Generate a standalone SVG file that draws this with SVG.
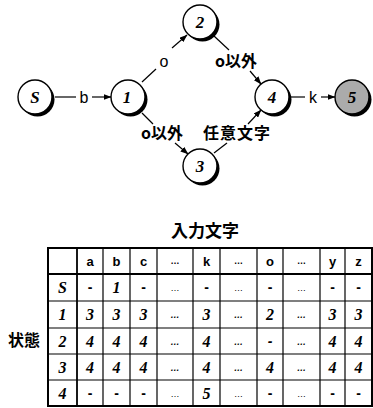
<svg xmlns="http://www.w3.org/2000/svg" width="373" height="408" viewBox="0 0 373 408">
<defs>
<style>
.shadow{fill:#000}
.node{fill:#fff;stroke:#000;stroke-width:1.4}
.nl{font-family:"Liberation Serif",serif;font-style:italic;font-weight:bold;font-size:17px;text-anchor:middle}
.edge{stroke:#000;stroke-width:1.2;fill:none}
.arr{stroke:#000;stroke-width:1.2;fill:none;marker-end:url(#ah)}
.el{font-family:"Liberation Sans",Arial,sans-serif;font-size:16px;text-anchor:middle}
.cj{font-family:"Noto Sans CJK JP","Noto Sans CJK SC",sans-serif;font-weight:bold;font-size:16px;text-anchor:middle}
.grid{stroke:#000;stroke-width:1.2}
.thick{stroke:#000;stroke-width:2}
.hd{font-family:"Liberation Sans",Arial,sans-serif;font-size:13px;font-weight:bold;text-anchor:middle}
.val{font-family:"Liberation Serif",serif;font-style:italic;font-weight:bold;font-size:16px;text-anchor:middle}
.dots{font-family:"Liberation Sans",Arial,sans-serif;font-size:9px;text-anchor:middle}
.dash{font-family:"Liberation Sans",Arial,sans-serif;font-size:14px;font-weight:bold;text-anchor:middle}
</style>
<marker id="ah" viewBox="0 0 8 6" refX="7.5" refY="3" markerWidth="8" markerHeight="6" markerUnits="userSpaceOnUse" orient="auto">
<path d="M0,0 L8,3 L0,6 Z" fill="#000"/>
</marker>
</defs>
<rect width="373" height="408" fill="#fff"/>

<g id="connectors">
<line class="edge" x1="55" y1="97" x2="76" y2="97"/>
<line class="arr" x1="92" y1="97" x2="111" y2="97"/>
<text class="el" x="84" y="103">b</text>
<line class="edge" x1="142" y1="82" x2="156" y2="69"/>
<line class="arr" x1="172" y1="48" x2="187" y2="35"/>
<text class="el" x="164" y="67">o</text>
<line class="edge" x1="214" y1="36" x2="229" y2="50"/>
<line class="arr" x1="250" y1="71" x2="261" y2="84"/>
<text class="cj" x="236" y="67">o以外</text>
<line class="edge" x1="142" y1="113" x2="153" y2="124"/>
<line class="arr" x1="175" y1="143" x2="188" y2="154"/>
<text class="cj" x="162" y="139">o以外</text>
<line class="edge" x1="214" y1="153" x2="227" y2="143"/>
<line class="arr" x1="248" y1="124" x2="261" y2="110"/>
<text class="cj" x="237" y="139" style="letter-spacing:1px">任意文字</text>
<line class="edge" x1="291" y1="97" x2="305" y2="97"/>
<line class="arr" x1="321" y1="97" x2="335" y2="97"/>
<text class="el" x="313" y="103">k</text>
</g>

<g id="node-S"><circle class="shadow" cx="37.5" cy="99.5" r="17"/><circle class="node" cx="35" cy="97" r="17"/><text class="nl" x="35" y="103">S</text></g>
<g id="node-1"><circle class="shadow" cx="130.5" cy="99.5" r="17"/><circle class="node" cx="128" cy="97" r="17"/><text class="nl" x="127" y="103">1</text></g>
<g id="node-2"><circle class="shadow" cx="202.5" cy="24.5" r="17"/><circle class="node" cx="200" cy="22" r="17"/><text class="nl" x="200" y="28">2</text></g>
<g id="node-3"><circle class="shadow" cx="202.5" cy="168.5" r="17"/><circle class="node" cx="200" cy="166" r="17"/><text class="nl" x="200" y="172">3</text></g>
<g id="node-4"><circle class="shadow" cx="274.5" cy="99.5" r="17"/><circle class="node" cx="272" cy="97" r="17"/><text class="nl" x="272" y="103">4</text></g>
<g id="node-5"><circle class="shadow" cx="354.5" cy="99.5" r="17"/><circle class="node" cx="352" cy="97" r="17" style="fill:#ababab"/><text class="nl" x="352" y="103">5</text></g>

<g id="table">
<text class="cj" x="205" y="237" style="font-size:17px">入力文字</text>
<text class="cj" x="24" y="346" style="font-size:16px">状態</text>
<g>
<line class="grid" x1="77" y1="248" x2="77" y2="406" style="stroke-width:1.8"/>
<line class="grid" x1="103" y1="248" x2="103" y2="406"/>
<line class="grid" x1="130" y1="248" x2="130" y2="406"/>
<line class="grid" x1="157" y1="248" x2="157" y2="406"/>
<line class="grid" x1="193" y1="248" x2="193" y2="406"/>
<line class="grid" x1="220" y1="248" x2="220" y2="406"/>
<line class="grid" x1="257" y1="248" x2="257" y2="406"/>
<line class="grid" x1="283" y1="248" x2="283" y2="406"/>
<line class="grid" x1="320" y1="248" x2="320" y2="406"/>
<line class="grid" x1="345" y1="248" x2="345" y2="406"/>
<line class="grid" x1="48" y1="274" x2="372" y2="274" style="stroke-width:1.8"/>
<line class="grid" x1="48" y1="301" x2="372" y2="301"/>
<line class="grid" x1="48" y1="328" x2="372" y2="328"/>
<line class="grid" x1="48" y1="354" x2="372" y2="354"/>
<line class="grid" x1="48" y1="380" x2="372" y2="380"/>
<rect x="48" y="248" width="324" height="158" fill="none" class="thick"/>
</g>
<g class="hd">
<text x="90" y="266">a</text><text x="116.5" y="266">b</text><text x="143.5" y="266">c</text><text class="dots" x="175" y="264">…</text><text x="206.5" y="266">k</text><text class="dots" x="238.5" y="264">…</text><text x="270" y="266">o</text><text class="dots" x="301.5" y="264">…</text><text x="332.5" y="266">y</text><text x="358.5" y="266">z</text>
</g>
<g class="val">
<text x="62.5" y="293">S</text><text x="62.5" y="320">1</text><text x="62.5" y="347">2</text><text x="62.5" y="373">3</text><text x="62.5" y="399">4</text>
</g>
<g id="row-S">
<text class="dash" x="90" y="292">-</text><text class="val" x="116.5" y="293">1</text><text class="dash" x="143.5" y="292">-</text><text class="dots" x="175" y="291">…</text><text class="dash" x="206.5" y="292">-</text><text class="dots" x="238.5" y="291">…</text><text class="dash" x="270" y="292">-</text><text class="dots" x="301.5" y="291">…</text><text class="dash" x="332.5" y="292">-</text><text class="dash" x="358.5" y="292">-</text>
</g>
<g id="row-1" class="val">
<text x="90" y="320">3</text><text x="116.5" y="320">3</text><text x="143.5" y="320">3</text><text class="dots" x="175" y="318">…</text><text x="206.5" y="320">3</text><text class="dots" x="238.5" y="318">…</text><text x="270" y="320">2</text><text class="dots" x="301.5" y="318">…</text><text x="332.5" y="320">3</text><text x="358.5" y="320">3</text>
</g>
<g id="row-2" class="val">
<text x="90" y="347">4</text><text x="116.5" y="347">4</text><text x="143.5" y="347">4</text><text class="dots" x="175" y="345">…</text><text x="206.5" y="347">4</text><text class="dots" x="238.5" y="345">…</text><text class="dash" x="270" y="346">-</text><text class="dots" x="301.5" y="345">…</text><text x="332.5" y="347">4</text><text x="358.5" y="347">4</text>
</g>
<g id="row-3" class="val">
<text x="90" y="373">4</text><text x="116.5" y="373">4</text><text x="143.5" y="373">4</text><text class="dots" x="175" y="371">…</text><text x="206.5" y="373">4</text><text class="dots" x="238.5" y="371">…</text><text x="270" y="373">4</text><text class="dots" x="301.5" y="371">…</text><text x="332.5" y="373">4</text><text x="358.5" y="373">4</text>
</g>
<g id="row-4">
<text class="dash" x="90" y="398">-</text><text class="dash" x="116.5" y="398">-</text><text class="dash" x="143.5" y="398">-</text><text class="dots" x="175" y="397">…</text><text class="val" x="206.5" y="399">5</text><text class="dots" x="238.5" y="397">…</text><text class="dash" x="270" y="398">-</text><text class="dots" x="301.5" y="397">…</text><text class="dash" x="332.5" y="398">-</text><text class="dash" x="358.5" y="398">-</text>
</g>
</g>
</svg>
